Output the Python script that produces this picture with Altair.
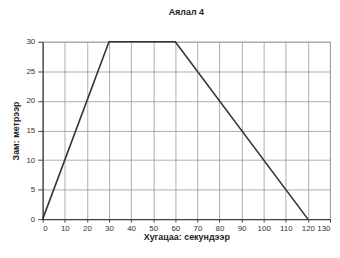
import altair as alt
import pandas as pd

times = [0, 30, 60, 120]
distances = [0, 30, 30, 0]
x_ticks = list(range(0, 131, 10))
y_ticks = list(range(0, 31, 5))

df = pd.DataFrame({"t": times, "d": distances})

chart = alt.Chart(df).mark_line(color="#333333", strokeWidth=1.6).encode(
    x=alt.X("t:Q", scale=alt.Scale(domain=[0, 130], nice=False),
            axis=alt.Axis(values=x_ticks, title="Хугацаа: секундээр", tickSize=3,
                          labelPadding=2, titlePadding=1)),
    y=alt.Y("d:Q", scale=alt.Scale(domain=[0, 30], nice=False),
            axis=alt.Axis(values=y_ticks, title="Зам: метрээр", tickSize=5,
                          labelPadding=3, titlePadding=6)),
).properties(
    width=290, height=179,
    title=alt.TitleParams("Аялал 4", fontSize=9, font="Liberation Sans", fontWeight="bold",
                          color="#222222", offset=21, anchor="middle"),
    autosize=alt.AutoSizeParams(type="none"),
    padding={"left": 35, "top": 33, "right": 2, "bottom": 25},
).configure_axis(
    labelFont="Liberation Sans", labelFontSize=8, labelColor="#333333",
    titleFont="Liberation Sans", titleFontSize=9, titleFontWeight="bold", titleColor="#222222",
    gridColor="#999999", gridWidth=0.8, gridOpacity=1,
    domainColor="#444444", domainWidth=1.2, tickColor="#444444",
).configure_view(stroke="#999999", strokeWidth=0.8)

chart.save("out.html", embed_options={"renderer": "svg", "actions": False})
